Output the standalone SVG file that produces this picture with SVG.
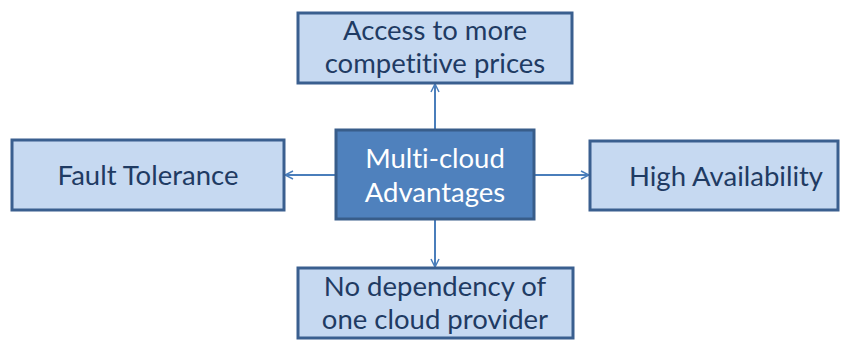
<svg xmlns="http://www.w3.org/2000/svg" width="849" height="340" viewBox="0 0 849 340">
<style>
.box{fill:#c6d9f1;stroke:#3a5f8f;stroke-width:3}
.main{fill:#4f81bd;stroke:#385d8a;stroke-width:3}
.t{font-family:Lato,"Open Sans",sans-serif;font-size:27.5px;fill:#1f3b63;text-anchor:middle;font-variant-ligatures:none}
.tw{font-family:Lato,"Open Sans",sans-serif;font-size:27.5px;fill:#ffffff;text-anchor:middle;font-variant-ligatures:none}
.c{stroke:#4a7ebb;stroke-width:2;fill:none}
</style>
<defs>
<marker id="arr" viewBox="0 0 10 10" refX="9" refY="5" markerWidth="10" markerHeight="10" markerUnits="userSpaceOnUse" orient="auto">
<path d="M1,1 L9,5 L1,9" fill="none" stroke="#4a7ebb" stroke-width="1.5"/>
</marker>
</defs>
<g id="connectors">
<line class="c" x1="435" y1="130" x2="435" y2="84" marker-end="url(#arr)"/>
<line class="c" x1="336" y1="175" x2="285" y2="175" marker-end="url(#arr)"/>
<line class="c" x1="534" y1="175" x2="589" y2="175" marker-end="url(#arr)"/>
<line class="c" x1="435" y1="219" x2="435" y2="267" marker-end="url(#arr)"/>
</g>
<g id="top">
<rect class="box" x="298" y="13" width="274" height="70"/>
<text class="t" x="435" y="40">Access to more</text>
<text class="t" x="435" y="73">competitive prices</text>
</g>
<g id="left">
<rect class="box" x="12" y="140" width="272" height="70"/>
<text class="t" x="148" y="185">Fault Tolerance</text>
</g>
<g id="center">
<rect class="main" x="336" y="130" width="198" height="89"/>
<text class="tw" x="435" y="168">Multi-cloud</text>
<text class="tw" x="435" y="202">Advantages</text>
</g>
<g id="right">
<rect class="box" x="590" y="141" width="248" height="69"/>
<text class="t" x="726" y="186">High Availability</text>
</g>
<g id="bottom">
<rect class="box" x="298" y="268" width="275" height="70"/>
<text class="t" x="435" y="296">No dependency of</text>
<text class="t" x="435" y="329">one cloud provider</text>
</g>
</svg>
